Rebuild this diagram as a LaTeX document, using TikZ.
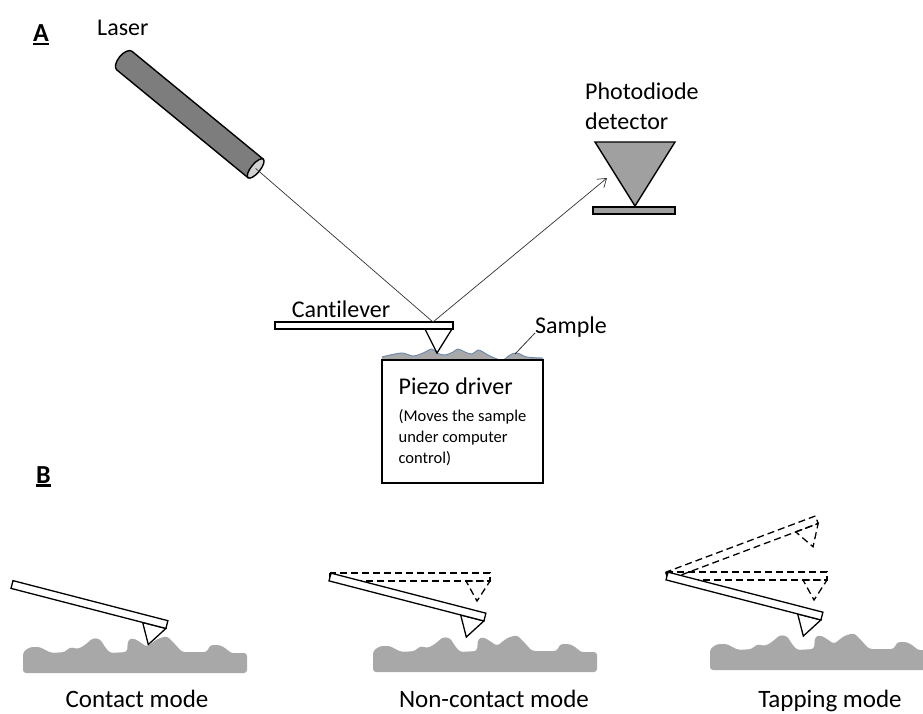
\documentclass[tikz,border=0pt]{standalone}
\usepackage{fontspec}
\setmainfont{Carlito}[Ligatures=NoCommon]
\usepackage{tikz}
\usetikzlibrary{
  arrows.meta, shapes.geometric,
  positioning, calc
}
\usepackage{xcolor}
\definecolor{lasergray}{RGB}{125,125,125}
\definecolor{capgray}{RGB}{210,210,210}
\definecolor{detgray}{RGB}{160,160,160}
\definecolor{samplegray}{RGB}{168,168,168}
\definecolor{sampleedge}{RGB}{105,135,175}

\newcommand{\smalltext}{\fontsize{16.5}{20}\selectfont}
% bold letter with a heavy rule under it
\newcommand{\panelmark}[1]{%
  \setbox0\hbox{\bfseries #1}\rlap{\rule[-3.5pt]{\wd0}{2.5pt}}\box0}

\tikzset{
  lbl/.style={inner sep=0pt, font=\fontsize{24}{30}\selectfont},
  modelbl/.style={inner sep=0pt, font=\fontsize{25}{30}\selectfont},
  panel/.style={inner sep=0pt, font=\fontsize{26}{30}\selectfont},
  outline/.style={draw=black, line width=1.4pt},
  beam/.style={draw=black!80, line width=0.7pt},
  lever/.style={draw=black, line width=1.3pt, fill=white},
  ghost/.style={draw=black, line width=1.3pt, dash pattern=on 7pt off 4pt},
  surface/.style={fill=samplegray, draw=none, rounded corners=3pt},
  % cantilever with its tip, pivot at the left end
  probe/.pic={
    \path[pic actions] (136,4) -- (160,4) -- (147,24) -- cycle;
    \path[pic actions] (0,-4) rectangle (160,4);
  },
  % rough sample on a flat base
  roughness/.pic={
    \path[pic actions] (0,0) -- (0,-21) -- (7,-26) -- (17,-26) -- (24,-22)
      -- (29,-20) -- (42,-21) -- (47,-26) -- (55,-24) -- (62,-28) -- (70,-35)
      -- (77,-34) -- (82,-26) -- (87,-20) -- (104,-21) -- (105,-33) -- (110,-35)
      -- (117,-31) -- (124,-26) -- (134,-34) -- (144,-37) -- (150,-31)
      -- (159,-21) -- (184,-21) -- (187,-28) -- (197,-28) -- (205,-23)
      -- (207,-20) -- (224,-20) -- (224,0) -- cycle;
  }
}

\begin{document}
\begin{tikzpicture}[x=1pt, y=-1pt]
  \clip (0,0) rectangle (923,713);

  % ---- A: instrument ----
  \node[panel, anchor=base west] (markA) at (33,41.5) {\panelmark{A}};
  \node[lbl, anchor=base west] (laserlbl) at (97,35) {Laser};
  % laser tube, drawn along its own axis
  \begin{scope}[shift={(190,114.5)}, rotate=-39.4]
    \draw[outline, fill=lasergray] (85,-12) -- (-85,-12)
      arc[start angle=270, end angle=90, x radius=6, y radius=12]
      -- (85,12) -- cycle;
    \draw[outline, fill=capgray] (85,0) ellipse[x radius=4.5, y radius=12];
    \coordinate (laserend) at (85,0);
  \end{scope}

  \node[lbl, anchor=north west, align=left] (pdlbl) at (585,83)
    {Photodiode\\detector};
  \draw[outline, fill=detgray] (595,142) -- (675,142) -- (635,206) -- cycle;
  \draw[outline, fill=detgray] (593,207) rectangle (675,214);

  % sample on the piezo stage
  \fill[samplegray] (382,360) -- plot[smooth, tension=0.6] coordinates {
    (382,357) (390,355) (403,353) (413,356) (423,353) (432,349) (437,353)
    (445,355) (453,352) (458,349) (465,352) (472,354) (478,350) (483,352)
    (490,356) (502,360) (510,355) (517,353) (527,357) (543,358)}
    -- (543,360) -- cycle;
  \draw[sampleedge, line width=0.9pt] plot[smooth, tension=0.6] coordinates {
    (382,357) (390,355) (403,353) (413,356) (423,353) (432,349) (437,353)
    (445,355) (453,352) (458,349) (465,352) (472,354) (478,350) (483,352)
    (490,356) (502,360) (510,355) (517,353) (527,357) (543,358)};
  \node[outline, fill=white, minimum width=161pt, minimum height=123pt,
        align=left, font=\fontsize{24}{27}\selectfont] (piezo) at (462.5,421.5)
    {Piezo driver\\
     \smalltext (Moves the sample\\[-6pt]
     \smalltext under computer\\[-6pt]
     \smalltext control)};

  % cantilever and tip
  \draw[lever] (425,329) -- (452,329) -- (437,353) -- cycle;
  \draw[lever] (275,322) rectangle (453,329);
  \node[lbl, anchor=base] (leverlbl) at (341,317) {Cantilever};
  \node[lbl, anchor=base west] (samplelbl) at (535,333) {Sample};
  \coordinate (surf) at (515,354);
  \draw[line width=0.8pt, black!80] (samplelbl.base west) -- (surf);

  % laser path
  \coordinate (spot) at (433,322);
  \coordinate (hit) at (607,178);
  \draw[beam] (laserend) -- (spot);
  \draw[beam, -{Straight Barb[length=8pt, width=11pt]}] (spot) -- (hit);

  % ---- B: imaging modes ----
  \node[panel, anchor=base west] (markB) at (36,483) {\panelmark{B}};

  \pic[surface] at (23,673) {roughness};
  \pic[lever, rotate=-14.5] at (12,584.5) {probe};
  \node[modelbl, anchor=base] (contact) at (137,707) {Contact mode};

  \pic[surface] at (373,672) {roughness};
  \pic[ghost] at (330,577) {probe};
  \pic[lever, rotate=-14.5] at (330,577) {probe};
  \node[modelbl, anchor=base] (noncontact) at (494,707) {Non-contact mode};

  \pic[surface] at (710,670) {roughness};
  \pic[ghost, rotate=20.6] at (667,576) {probe};
  \pic[ghost] at (667,576) {probe};
  \pic[lever, rotate=-14.5] at (667,576) {probe};
  \node[modelbl, anchor=base] (tapping) at (830,707) {Tapping mode};
\end{tikzpicture}
\end{document}
